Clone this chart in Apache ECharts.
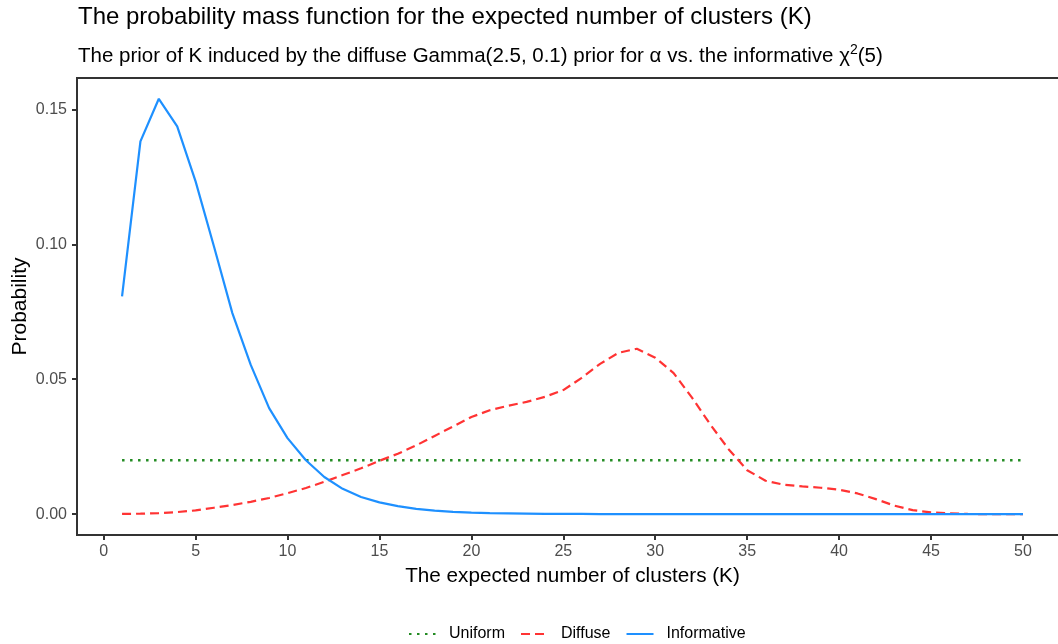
<!DOCTYPE html>
<html>
<head>
<meta charset="utf-8">
<script src="https://cdn.jsdelivr.net/npm/echarts@6/dist/echarts.min.js"></script>
<style>
  html, body { margin: 0; padding: 0; background: #ffffff; }
  #chart { width: 1058px; height: 644px; }
</style>
</head>
<body>
<div id="chart"></div>
<script>
// ---- Data ----
const K = [1,2,3,4,5,6,7,8,9,10,11,12,13,14,15,16,17,18,19,20,21,22,23,24,25,
           26,27,28,29,30,31,32,33,34,35,36,37,38,39,40,41,42,43,44,45,46,47,48,49,50];

const uniform = [0.02,0.02,0.02,0.02,0.02,0.02,0.02,0.02,0.02,0.02,
                 0.02,0.02,0.02,0.02,0.02,0.02,0.02,0.02,0.02,0.02,
                 0.02,0.02,0.02,0.02,0.02,0.02,0.02,0.02,0.02,0.02,
                 0.02,0.02,0.02,0.02,0.02,0.02,0.02,0.02,0.02,0.02,
                 0.02,0.02,0.02,0.02,0.02,0.02,0.02,0.02,0.02,0.02];

const diffuse = [0.0001,0.0002,0.0004,0.0008,0.0014,0.0024,0.0034,0.0046,0.0060,0.0078,
                 0.0097,0.0120,0.0145,0.0170,0.0198,0.0224,0.0255,0.0290,0.0325,0.0360,
                 0.0385,0.0402,0.0416,0.0435,0.0460,0.0505,0.0557,0.0598,0.0613,0.0580,
                 0.0523,0.0432,0.0332,0.0240,0.0163,0.0124,0.0109,0.0103,0.0098,0.0091,
                 0.0077,0.0056,0.0032,0.0015,0.0007,0.0003,0.0001,0.0000,0.0000,0.0000];

const informative = [0.0807,0.1381,0.1539,0.1437,0.1233,0.0992,0.0745,0.0553,0.0393,0.0282,
                     0.0200,0.0138,0.0094,0.0064,0.0044,0.0030,0.0020,0.0013,0.0009,0.0006,
                     0.0004,0.0003,0.0002,0.0001,0.0001,0.0001,0.0000,0.0000,0.0000,0.0000,
                     0.0000,0.0000,0.0000,0.0000,0.0000,0.0000,0.0000,0.0000,0.0000,0.0000,
                     0.0000,0.0000,0.0000,0.0000,0.0000,0.0000,0.0000,0.0000,0.0000,0.0000];

const xTicks = [0,5,10,15,20,25,30,35,40,45,50];
const yTicks = [0, 0.05, 0.10, 0.15];
const seriesNames = ['Uniform', 'Diffuse', 'Informative'];

function pairs(vals) { return K.map((k, i) => [k, vals[i]]); }

const FONT = "'Liberation Sans', Arial, sans-serif";
const chart = echarts.init(document.getElementById('chart'), null, { renderer: 'canvas' });

chart.setOption({
  backgroundColor: '#ffffff',
  animation: false,
  title: [
    {
      text: 'The probability mass function for the expected number of clusters (K)',
      left: 78, top: 5, padding: 0,
      textStyle: { fontFamily: FONT, fontSize: 24, fontWeight: 'normal', color: '#000000' }
    },
    {
      text: 'The prior of K induced by the diffuse Gamma(2.5, 0.1) prior for α vs. the informative χ{sup|2}(5)',
      left: 78, top: 43, padding: 0,
      textStyle: {
        fontFamily: FONT, fontSize: 20.5, fontWeight: 'normal', color: '#000000', lineHeight: 26,
        rich: { sup: { fontFamily: FONT, fontSize: 14, color: '#000000', verticalAlign: 'top', lineHeight: 26, padding: [0, 0, 10, 0] } }
      }
    }
  ],
  grid: {
    left: 77, top: 78, right: -10, bottom: 109,
    show: true, borderColor: '#333333', borderWidth: 2, backgroundColor: 'transparent',
    containLabel: false, outerBoundsMode: 'none'
  },
  legend: {
    data: seriesNames,
    left: 403, top: 621,
    itemWidth: 27, itemHeight: 14, itemGap: 15,
    itemStyle: { opacity: 0 },
    textStyle: { fontFamily: FONT, fontSize: 16, color: '#000000', padding: [0, 0, 0, 8] }
  },
  xAxis: {
    type: 'value', min: -1.45, max: 52.45,
    name: 'The expected number of clusters (K)',
    nameLocation: 'middle', nameGap: 31, nameMoveOverlap: false,
    nameTextStyle: { fontFamily: FONT, fontSize: 20.7, color: '#000000' },
    axisLine: { show: false, onZero: false },
    axisTick: { show: true, inside: false, length: 5, lineStyle: { color: '#333333', width: 2 }, customValues: xTicks },
    axisLabel: { show: true, margin: 9, fontFamily: FONT, fontSize: 16, color: '#4D4D4D', customValues: xTicks },
    splitLine: { show: false }
  },
  yAxis: {
    type: 'value', min: -0.0077, max: 0.1616,
    name: 'Probability',
    nameLocation: 'middle', nameGap: 46, nameRotate: 90, nameMoveOverlap: false,
    nameTextStyle: { fontFamily: FONT, fontSize: 21, color: '#000000' },
    axisLine: { show: false, onZero: false },
    axisTick: { show: true, inside: false, length: 5, lineStyle: { color: '#333333', width: 2 }, customValues: yTicks },
    axisLabel: {
      show: true, margin: 10, fontFamily: FONT, fontSize: 16, color: '#4D4D4D', customValues: yTicks,
      formatter: v => v.toFixed(2)
    },
    splitLine: { show: false }
  },
  series: [
    {
      name: 'Uniform', type: 'line', data: pairs(uniform), symbol: 'none', showSymbol: false, smooth: false,
      lineStyle: { color: '#228B22', width: 2.5, type: [2.5, 5.5] },
      itemStyle: { color: '#228B22' }, z: 2
    },
    {
      name: 'Diffuse', type: 'line', data: pairs(diffuse), symbol: 'none', showSymbol: false, smooth: false,
      lineStyle: { color: '#FF3333', width: 2.2, type: [9, 5] },
      itemStyle: { color: '#FF3333' }, z: 3
    },
    {
      name: 'Informative', type: 'line', data: pairs(informative), symbol: 'none', showSymbol: false, smooth: false,
      lineStyle: { color: '#1E90FF', width: 2.2, type: 'solid' },
      itemStyle: { color: '#1E90FF' }, z: 4
    }
  ]
});
</script>
</body>
</html>
